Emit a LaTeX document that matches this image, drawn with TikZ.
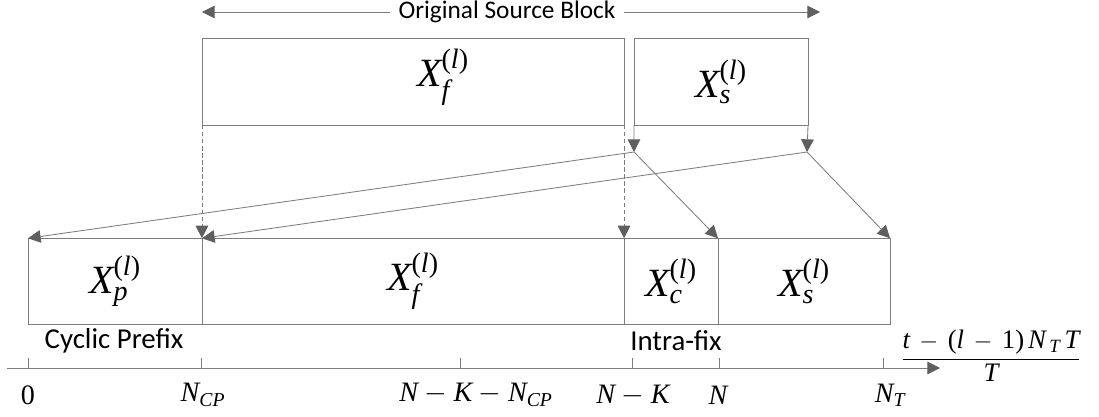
\documentclass[tikz,border=0pt]{standalone}
\usepackage{amsmath}
\usepackage[no-math]{fontspec}
\setmainfont{Carlito}
% Times-like letters and digits in math
\newfontfamily\tmsfam{Liberation Serif}[NFSSFamily=tms]
\DeclareSymbolFont{letters}{TU}{tms}{m}{it}
\DeclareSymbolFont{operators}{TU}{tms}{m}{n}
\usetikzlibrary{arrows.meta}

\definecolor{linegray}{RGB}{125,125,125}
\definecolor{tipgray}{RGB}{95,95,95}

\begin{document}
\begin{tikzpicture}[x=0.025cm, y=-0.025cm,
  blk/.style={draw=linegray, line width=0.6pt, inner sep=0pt, outer sep=0pt, minimum height=2.16cm, font=\fontsize{28.5}{30}\selectfont},
  sym/.style={font=\fontsize{28.5}{30}\selectfont},
  arr/.style={draw=linegray, line width=0.6pt, -{Triangle[length=9pt,width=9pt,color=tipgray]}},
  cpy/.style={arr, dash pattern=on 3pt off 2pt},
  tck/.style={draw=linegray, line width=0.6pt},
  lbl/.style={font=\fontsize{20.5}{24}\selectfont},
  axl/.style={font=\fontsize{20}{24}\selectfont},
]
\useasboundingbox (0,0) rectangle (1099,416);

% ---- original source block
\node[font=\fontsize{18}{22}\selectfont, fill=white, inner sep=6pt] (osb) at (507,12) {Original Source Block};
\coordinate (osbL) at (202,12);
\coordinate (osbR) at (820,12);
\draw[arr] (osb.west) -- (osbL);
\draw[arr] (osb.east) -- (osbR);

\node[blk, minimum width=10.55cm] (Xf) at (413,82) {};
\node[sym] (Xflbl) at (443,77) {$X_f^{(l)}$};
\node[blk, minimum width=4.35cm] (Xs) at (721,82) {$X_s^{(l)}$};

% ---- transmitted block
\node[blk, minimum width=4.35cm] (bXp) at (115,281.5) {$X_p^{(l)}$};
\node[blk, minimum width=10.55cm] (bXf) at (413,281.5) {$X_f^{(l)}$};
\node[blk, minimum width=2.35cm] (bXc) at (671,281.5) {$X_c^{(l)}$};
\node[blk, minimum width=4.3cm] (bXs) at (804,281.5) {$X_s^{(l)}$};

% ---- copies
\coordinate (c1) at (634,152);
\coordinate (c2) at (807,152);
\draw[arr] (Xs.south west) -- (c1);
\draw[arr] (Xs.south east) -- (c2);
\draw[arr] (c1) -- (bXp.north west);
\draw[arr] (c1) -- (bXc.north east);
\draw[arr] (c2) -- (bXf.north west);
\draw[arr] (c2) -- (bXs.north east);
\draw[cpy] (Xf.south west) -- (bXf.north west);
\draw[cpy] (Xf.south east) -- (bXf.north east);

\node[lbl] (cp) at (114,341) {Cyclic Prefix};
\node[lbl] (ifx) at (676,341) {Intra-fix};

% ---- time axis
\coordinate (ax0) at (7,368);
\coordinate (ax1) at (940,368);
\draw[arr] (ax0) -- (ax1);
\foreach \t in {28,201,460,632,719,883}
  \draw[tck] (\t,368) -- (\t,358);
\node[axl] (l0) at (28,395) {$0$};
\node[axl] (lncp) at (203,395) {$N_{CP}$};
\node[axl] (lnkn) at (476,395) {$N-K-N_{CP}$};
\node[axl] (lnk) at (633,395) {$N-K$};
\node[axl] (ln) at (718,395) {$N$};
\node[axl] (lnt) at (890,395) {$N_T$};
\node[font=\fontsize{19}{22}\selectfont] (tt) at (991,356) {$\dfrac{t\,-\,(l\,-\,1)\,N_{\,T}\,T}{T}$};
\end{tikzpicture}
\end{document}
